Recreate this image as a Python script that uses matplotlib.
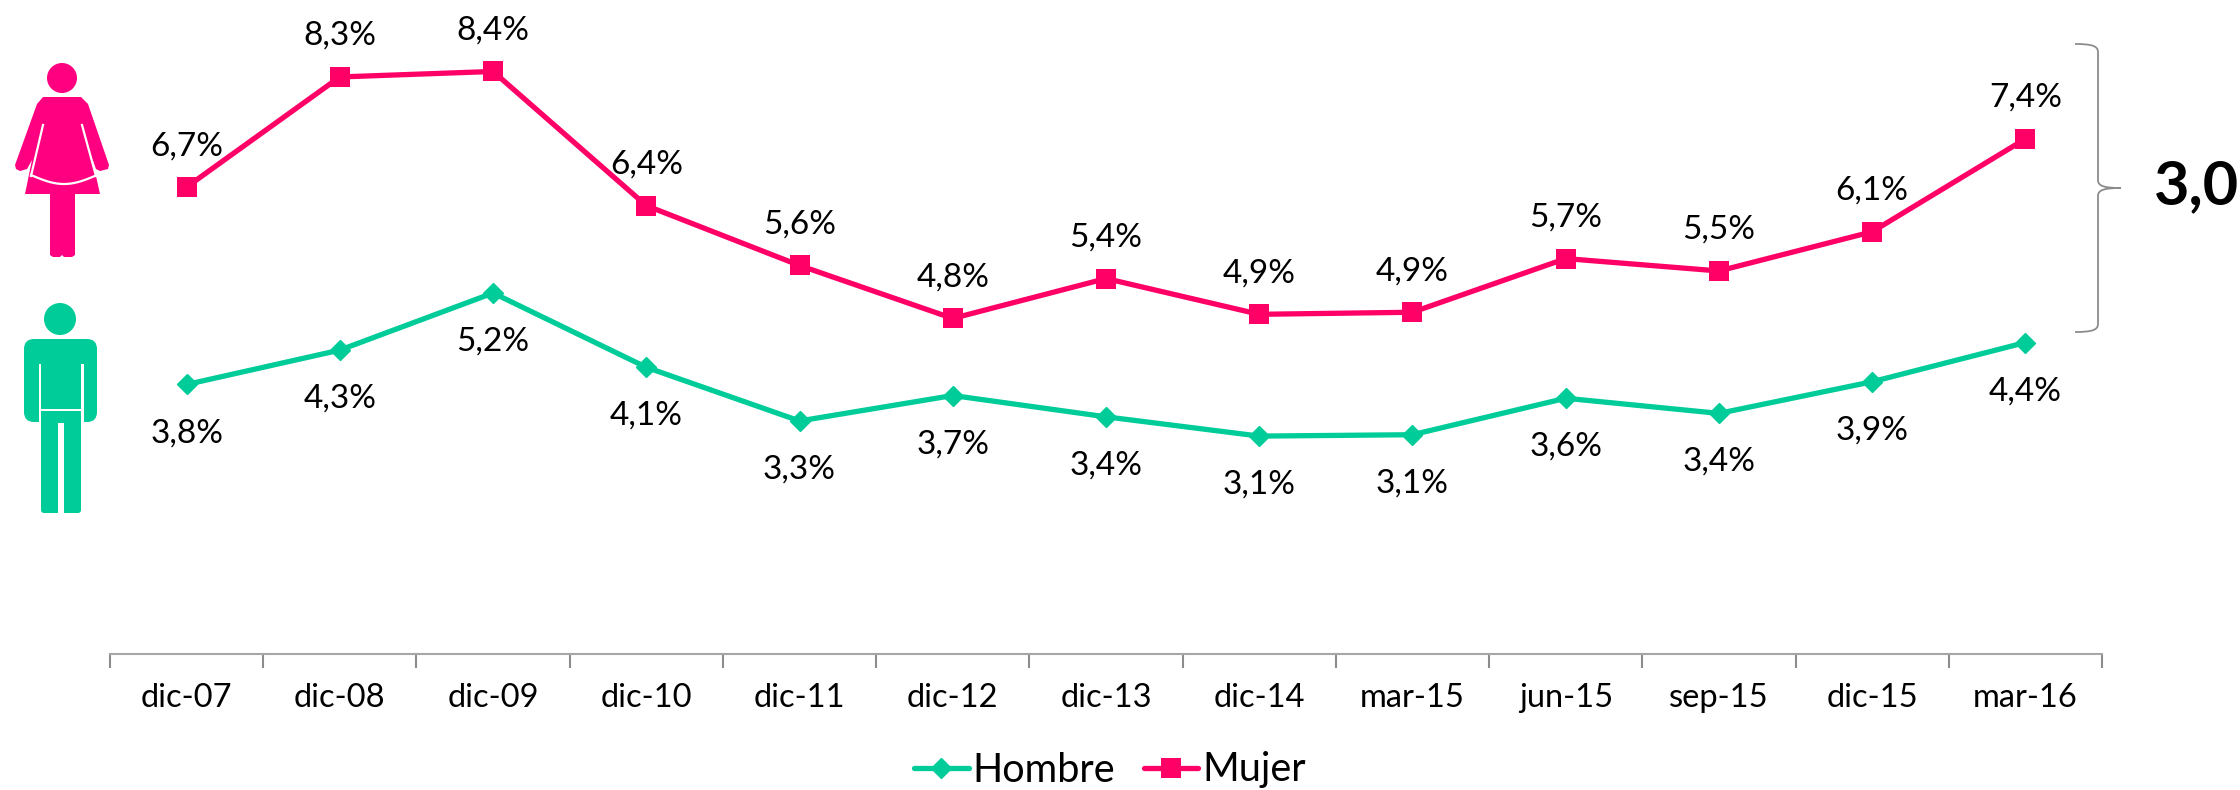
#!/usr/bin/env python
"""Desempleo por sexo: Hombre / Mujer, dic-07 a mar-16."""
import matplotlib
matplotlib.use("Agg")
import numpy as np
import matplotlib.pyplot as plt
from matplotlib.patches import Circle, FancyBboxPatch, PathPatch, Polygon, Rectangle
from matplotlib.path import Path

plt.rcParams["font.family"] = ["Lato", "DejaVu Sans"]

PERIODS = ["dic-07", "dic-08", "dic-09", "dic-10", "dic-11", "dic-12", "dic-13",
           "dic-14", "mar-15", "jun-15", "sep-15", "dic-15", "mar-16"]
HOMBRE = [3.85, 4.35, 5.18, 4.10, 3.32, 3.69, 3.38, 3.10, 3.12, 3.65, 3.43, 3.89, 4.46]
MUJER = [6.72, 8.32, 8.40, 6.45, 5.58, 4.81, 5.39, 4.87, 4.90, 5.68, 5.50, 6.07, 7.42]
HOMBRE_LABELS = ["3,8%", "4,3%", "5,2%", "4,1%", "3,3%", "3,7%", "3,4%",
                 "3,1%", "3,1%", "3,6%", "3,4%", "3,9%", "4,4%"]
MUJER_LABELS = ["6,7%", "8,3%", "8,4%", "6,4%", "5,6%", "4,8%", "5,4%",
                "4,9%", "4,9%", "5,7%", "5,5%", "6,1%", "7,4%"]

GREEN = "#00CC99"
PINK = "#FF0066"
ICON_PINK = "#FF0080"
GREY = "#8C8C8C"
W, H = 2240, 790


def draw_woman(ov):
    ov.add_patch(Circle((62, 78), 15, fc=ICON_PINK, ec="none"))
    body = [(37, 104), (43, 97), (81, 97), (88, 104), (109, 165), (108, 169), (100, 171),
            (96, 169), (92, 158), (100, 194), (75, 194), (75, 255), (72, 257), (64, 257),
            (62, 255), (60, 257), (53, 257), (50, 255), (50, 194), (25, 194), (32, 160),
            (27, 169), (20, 171), (16, 169), (15, 165)]
    ov.add_patch(Polygon(body, closed=True, fc=ICON_PINK, ec="none"))
    # white cuts between arms, dress and hem
    ov.plot([43, 31], [125, 176], color="white", lw=1.6)
    ov.plot([82, 96], [125, 176], color="white", lw=1.6)
    t = np.linspace(0, 1, 30)
    ov.plot(31 + 66 * t, 175 + 9 * np.sin(np.pi * t), color="white", lw=1.6)


def draw_man(ov):
    ov.add_patch(Circle((60, 319), 16, fc=GREEN, ec="none"))
    ov.add_patch(FancyBboxPatch((32, 347), 57, 67, boxstyle="round,pad=8,rounding_size=10",
                                fc=GREEN, ec="none"))
    ov.add_patch(FancyBboxPatch((44, 412), 34, 98, boxstyle="round,pad=3,rounding_size=3",
                                fc=GREEN, ec="none"))
    # gaps: arm/torso, waist and between the legs
    ov.add_patch(Rectangle((38.5, 364), 2.5, 62, fc="white", ec="none"))
    ov.add_patch(Rectangle((81, 364), 2.5, 62, fc="white", ec="none"))
    ov.add_patch(Rectangle((41, 409), 40, 2, fc="white", ec="none"))
    ov.add_patch(Rectangle((57.5, 423), 6.5, 92, fc="white", ec="none"))
    ov.add_patch(Rectangle((38.5, 423), 2.5, 92, fc="white", ec="none"))
    ov.add_patch(Rectangle((81, 423), 2.5, 92, fc="white", ec="none"))


def draw_brace(ov):
    verts = [(2075, 44), (2092, 44), (2098, 46), (2098, 52), (2098, 180), (2098, 186),
             (2104, 188), (2121, 188), (2104, 188), (2098, 190), (2098, 196), (2098, 324),
             (2098, 330), (2092, 332), (2075, 332)]
    codes = [Path.MOVETO, Path.CURVE4, Path.CURVE4, Path.CURVE4, Path.LINETO, Path.CURVE4,
             Path.CURVE4, Path.CURVE4, Path.CURVE4, Path.CURVE4, Path.CURVE4, Path.LINETO,
             Path.CURVE4, Path.CURVE4, Path.CURVE4]
    ov.add_patch(PathPatch(Path(verts, codes), fc="none", ec=GREY, lw=1.3))


def main():
    fig = plt.figure(figsize=(W / 100, H / 100), dpi=100)
    left, right, base, top = 110, 2102, 653.5, 6
    ax = fig.add_axes([left / W, 1 - base / H, (right - left) / W, (base - top) / H])
    x = np.arange(len(PERIODS))

    ax.plot(x, HOMBRE, color=GREEN, lw=3.8, marker="D", ms=10, label="Hombre",
            solid_capstyle="round")
    ax.plot(x, MUJER, color=PINK, lw=3.8, marker="s", ms=14.5, mew=0, label="Mujer",
            solid_capstyle="round")
    for xi, v, lab in zip(x, HOMBRE, HOMBRE_LABELS):
        ax.annotate(lab, (xi, v), xytext=(0, -35), textcoords="offset points",
                    ha="center", va="center", fontsize=24, color="black")
    for xi, v, lab in zip(x, MUJER, MUJER_LABELS):
        ax.annotate(lab, (xi, v), xytext=(0, 29.5), textcoords="offset points",
                    ha="center", va="center", fontsize=24, color="black")

    ax.set_xlim(-0.5, len(PERIODS) - 0.5)
    ax.set_ylim(-0.06, -0.06 + (base - top) / 68.8)
    ax.set_xticks(x)
    ax.set_xticklabels(PERIODS, fontsize=23.5)
    ax.tick_params(axis="x", which="major", length=0, pad=21)
    ax.set_xticks(np.arange(-0.5, len(PERIODS)), minor=True)
    ax.tick_params(axis="x", which="minor", length=10, width=1.5, color=GREY)
    ax.set_yticks([])
    for s in ["top", "left", "right"]:
        ax.spines[s].set_visible(False)
    ax.spines["bottom"].set_color("#A6A6A6")
    ax.spines["bottom"].set_linewidth(1.5)
    ax.patch.set_alpha(0)

    leg = fig.legend(loc="center", bbox_to_anchor=(1110 / W, 1 - 770 / H), ncol=2, frameon=False,
                     fontsize=28.5, handlelength=1.38, handletextpad=0.1, columnspacing=0.72,
                     borderpad=0, borderaxespad=0)
    for h in leg.get_lines():
        h.set_linewidth(3.8)

    # overlay in pixel coordinates for icons, brace and the gap figure
    ov = fig.add_axes([0, 0, 1, 1], zorder=-1)
    ov.set_xlim(0, W)
    ov.set_ylim(H, 0)
    ov.axis("off")
    draw_woman(ov)
    draw_man(ov)
    draw_brace(ov)
    ov.text(2197, 186, "3,0", fontsize=44, fontweight="bold", ha="center", va="center",
            color="black")

    fig.savefig("out.png", dpi=100)
    plt.close(fig)


if __name__ == "__main__":
    main()
